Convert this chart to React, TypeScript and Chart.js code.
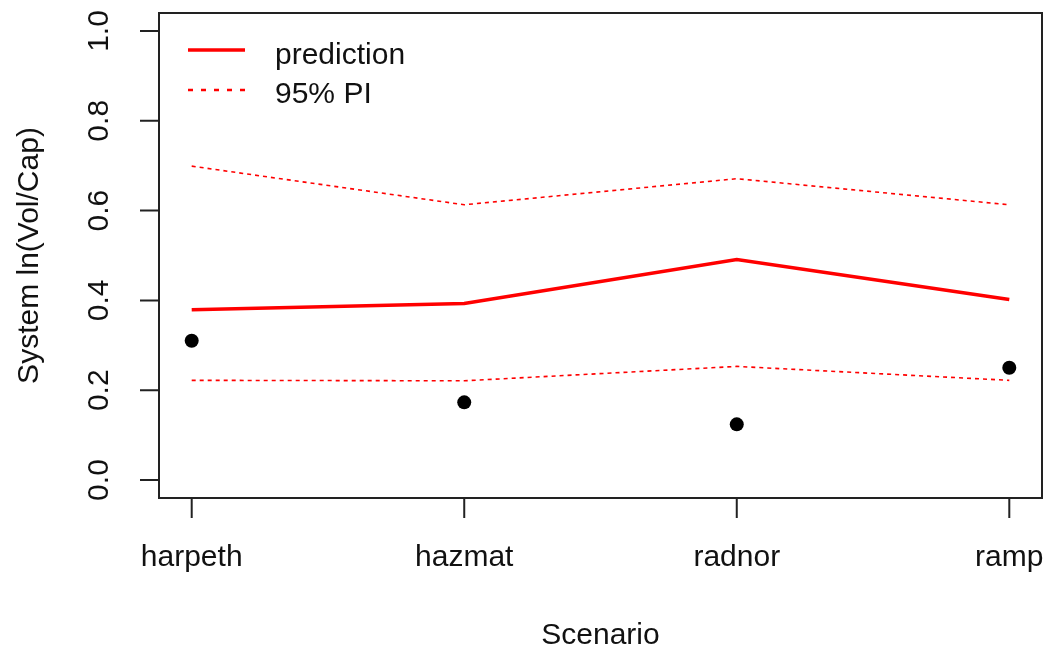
import React, { useEffect, useRef } from "react";
import { Chart, registerables } from "chart.js";

Chart.register(...registerables);

const categories = ["harpeth", "hazmat", "radnor", "ramp"];
const prediction = [0.379, 0.393, 0.491, 0.402];
const upperPI = [0.699, 0.613, 0.671, 0.613];
const lowerPI = [0.222, 0.221, 0.253, 0.222];
const observed = [0.31, 0.173, 0.124, 0.25];
const yTicks = [0, 0.2, 0.4, 0.6, 0.8, 1.0];
const yTickLabels = ["0.0", "0.2", "0.4", "0.6", "0.8", "1.0"];
const xTitle = "Scenario";
const yTitle = "System ln(Vol/Cap)";
const legendLabels = ["prediction", "95% PI"];

const FONT = "30px 'Liberation Sans', Arial, sans-serif";

const toXY = (arr: number[]) => arr.map((v, i) => ({ x: i + 1, y: v }));

const rAxesPlugin = {
  id: "rAxes",
  afterDraw(chart: any) {
    const ctx = chart.ctx as CanvasRenderingContext2D;
    const { left, right, top, bottom } = chart.chartArea;
    const xs = chart.scales.x;
    const ys = chart.scales.y;
    ctx.save();
    ctx.strokeStyle = "#222";
    ctx.lineWidth = 2;
    ctx.strokeRect(left, top, right - left, bottom - top);

    // x axis
    ctx.beginPath();
    const x0 = xs.getPixelForValue(1);
    const x1 = xs.getPixelForValue(categories.length);
    ctx.moveTo(x0, bottom);
    ctx.lineTo(x1, bottom);
    categories.forEach((_, i) => {
      const px = xs.getPixelForValue(i + 1);
      ctx.moveTo(px, bottom);
      ctx.lineTo(px, bottom + 20);
    });
    // y axis
    const y0 = ys.getPixelForValue(yTicks[0]);
    const y1 = ys.getPixelForValue(yTicks[yTicks.length - 1]);
    ctx.moveTo(left, y0);
    ctx.lineTo(left, y1);
    yTicks.forEach((t) => {
      const py = ys.getPixelForValue(t);
      ctx.moveTo(left, py);
      ctx.lineTo(left - 19, py);
    });
    ctx.stroke();

    ctx.fillStyle = "#111";
    ctx.font = FONT;
    ctx.textAlign = "center";
    ctx.textBaseline = "middle";
    categories.forEach((c, i) => {
      const px = xs.getPixelForValue(i + 1);
      ctx.fillText(c, px, 558);
    });
    yTicks.forEach((t, i) => {
      const py = ys.getPixelForValue(t);
      ctx.save();
      ctx.translate(100, py);
      ctx.rotate(-Math.PI / 2);
      ctx.fillText(yTickLabels[i], 0, 0);
      ctx.restore();
    });
    // titles
    ctx.fillText(xTitle, (left + right) / 2, 636);
    ctx.save();
    ctx.translate(30, (top + bottom) / 2);
    ctx.rotate(-Math.PI / 2);
    ctx.fillText(yTitle, 0, 0);
    ctx.restore();

    // legend
    ctx.strokeStyle = "#ff0000";
    ctx.lineWidth = 3.5;
    ctx.beginPath();
    ctx.moveTo(188, 50);
    ctx.lineTo(245, 50);
    ctx.stroke();
    ctx.lineWidth = 2.5;
    ctx.setLineDash([5, 8]);
    ctx.beginPath();
    ctx.moveTo(188, 90);
    ctx.lineTo(245, 90);
    ctx.stroke();
    ctx.setLineDash([]);
    ctx.textAlign = "left";
    ctx.fillText(legendLabels[0], 275, 56);
    ctx.fillText(legendLabels[1], 275, 95);
    ctx.restore();
  },
};

export default function App() {
  const ref = useRef<HTMLCanvasElement | null>(null);
  useEffect(() => {
    document.body.style.margin = "0";
    const chart = new Chart(ref.current as HTMLCanvasElement, {
      type: "line",
      data: {
        datasets: [
          {
            label: "prediction",
            data: toXY(prediction),
            borderColor: "#ff0000",
            borderWidth: 3.5,
            pointRadius: 0,
            tension: 0,
          },
          {
            label: "upper",
            data: toXY(upperPI),
            borderColor: "#ff0000",
            borderWidth: 1.6,
            borderDash: [4, 4],
            pointRadius: 0,
            tension: 0,
          },
          {
            label: "lower",
            data: toXY(lowerPI),
            borderColor: "#ff0000",
            borderWidth: 1.6,
            borderDash: [4, 4],
            pointRadius: 0,
            tension: 0,
          },
          {
            label: "observed",
            data: toXY(observed),
            showLine: false,
            pointRadius: 7,
            pointBackgroundColor: "#000",
            pointBorderColor: "#000",
            pointBorderWidth: 0,
          },
        ],
      },
      options: {
        animation: false,
        responsive: false,
        maintainAspectRatio: false,
        layout: { padding: { left: 159, right: 7, top: 13, bottom: 153 } },
        plugins: { legend: { display: false }, tooltip: { enabled: false } },
        scales: {
          x: { type: "linear", min: 0.88, max: 4.12, display: false },
          y: { type: "linear", min: -0.04, max: 1.04, display: false },
        },
      },
      plugins: [rAxesPlugin],
    });
    return () => chart.destroy();
  }, []);
  return (
    <div style={{ position: "absolute", left: 0, top: 0, width: 1049, height: 651, background: "#fff" }}>
      <canvas ref={ref} width={1049} height={651} style={{ width: 1049, height: 651 }} />
    </div>
  );
}
